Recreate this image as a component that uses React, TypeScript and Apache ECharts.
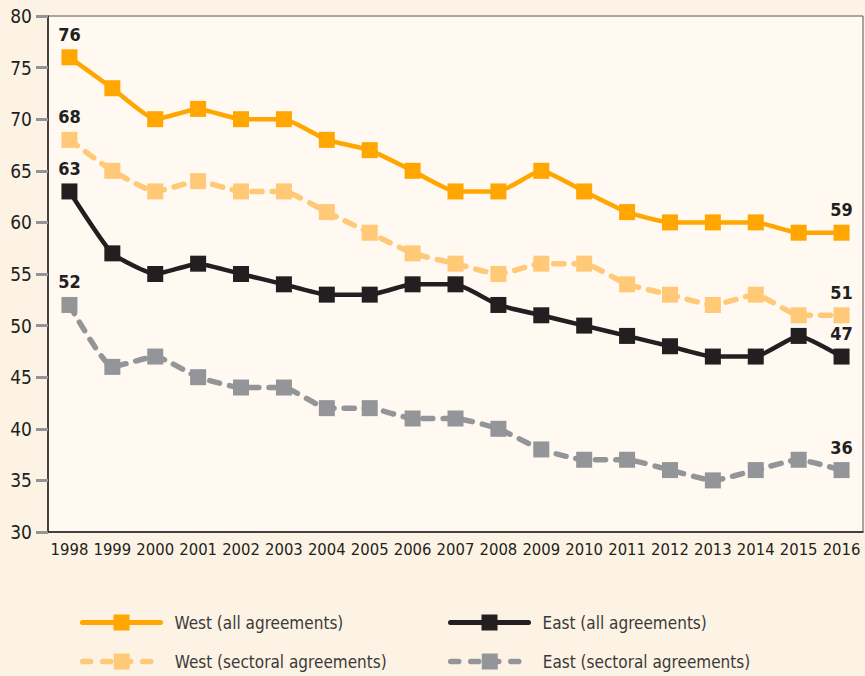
import React, { useEffect, useRef } from "react";
import * as echarts from "echarts";

const years = ["1998","1999","2000","2001","2002","2003","2004","2005","2006","2007","2008","2009","2010","2011","2012","2013","2014","2015","2016"];
const westAll = [76, 73, 70, 71, 70, 70, 68, 67, 65, 63, 63, 65, 63, 61, 60, 60, 60, 59, 59];
const westSectoral = [68, 65, 63, 64, 63, 63, 61, 59, 57, 56, 55, 56, 56, 54, 53, 52, 53, 51, 51];
const eastAll = [63, 57, 55, 56, 55, 54, 53, 53, 54, 54, 52, 51, 50, 49, 48, 47, 47, 49, 47];
const eastSectoral = [52, 46, 47, 45, 44, 44, 42, 42, 41, 41, 40, 38, 37, 37, 36, 35, 36, 37, 36];

const FONT = '"DejaVu Sans Condensed", "Liberation Sans Narrow", sans-serif';

export default function App() {
  const ref = useRef<HTMLDivElement>(null);
  useEffect(() => {
    const chart = echarts.init(ref.current!, null, { renderer: "svg" });
    const last = years.length - 1;
    const mk = (name: string, data: number[], color: string, dashed: boolean) => ({
      name,
      type: "line",
      data,
      smooth: 0.15,
      symbol: "rect",
      symbolSize: 16,
      itemStyle: { color },
      lineStyle: dashed
        ? { color, width: 5.5, type: [10, 10], cap: "round" }
        : { color, width: 4.5 },
      label: {
        show: true,
        position: "top",
        distance: 6,
        color: "#231F20",
        fontWeight: "bold",
        fontSize: 18,
        fontFamily: FONT,
        formatter: (p: any) => (p.dataIndex === 0 || p.dataIndex === last ? String(p.value) : ""),
      },
      z: dashed ? 2 : 3,
    });
    const legendItem = (name: string, left: number, top: number, dashed: boolean) => ({
      data: [name],
      left,
      top,
      itemWidth: 78,
      itemHeight: 20,
      lineStyle: dashed ? { width: 5.5, type: [8, 12], cap: "round" } : { width: 5, cap: "round" },
      textStyle: { color: "#3a3a3a", fontSize: 17, fontFamily: FONT, padding: [0, 0, 0, 9] },
      selectedMode: false,
    });
    chart.setOption({
      animation: false,
      backgroundColor: "#FDF3E4",
      grid: {
        left: 48,
        top: 16,
        right: 2,
        bottom: 144,
        show: true,
        backgroundColor: "#FFF9F2",
        borderColor: "#555",
        borderWidth: 1,
      },
      legend: [
        legendItem("West (all agreements)", 75, 609, false),
        legendItem("East (all agreements)", 443, 609, false),
        legendItem("West (sectoral agreements)", 75, 648, true),
        legendItem("East (sectoral agreements)", 443, 648, true),
      ],
      xAxis: {
        type: "category",
        data: years,
        boundaryGap: true,
        axisLine: { lineStyle: { color: "#231F20", width: 1.5 } },
        axisTick: { inside: true, length: 10, lineStyle: { color: "#939598", width: 3 } },
        axisLabel: { color: "#231F20", fontSize: 16.5, fontFamily: FONT, margin: 9, interval: 0, hideOverlap: false },
      },
      yAxis: {
        type: "value",
        min: 30,
        max: 80,
        interval: 5,
        splitLine: { show: false },
        axisLine: { show: true, lineStyle: { color: "#231F20", width: 1.5 } },
        axisTick: { show: true, length: 12, lineStyle: { color: "#939598", width: 3 } },
        axisLabel: { color: "#231F20", fontSize: 19, fontFamily: FONT, margin: 16 },
      },
      series: [
        mk("East (sectoral agreements)", eastSectoral, "#939598", true),
        mk("West (sectoral agreements)", westSectoral, "#FFC978", true),
        mk("East (all agreements)", eastAll, "#231F20", false),
        mk("West (all agreements)", westAll, "#FFA600", false),
      ],
    });
    return () => chart.dispose();
  }, []);
  return <div ref={ref} style={{ width: 865, height: 676, position: "absolute", left: 0, top: 0 }} />;
}
